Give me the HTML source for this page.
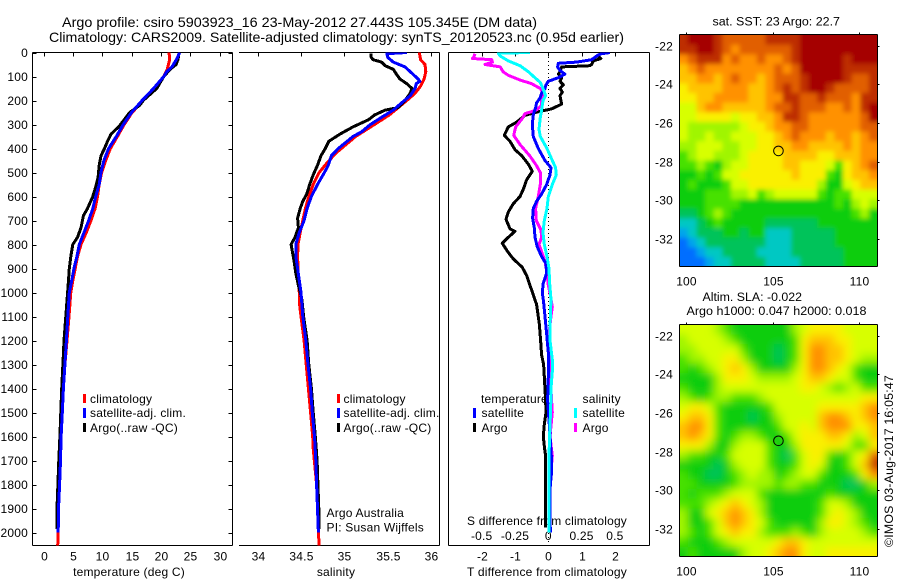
<!DOCTYPE html>
<html>
<head>
<meta charset="utf-8">
<title>Argo profile chart</title>
<style>
html,body{margin:0;padding:0;background:#fff;width:900px;height:580px;overflow:hidden}
svg{display:block}
text{font-family:"Liberation Sans",sans-serif;fill:#000;font-size:12px;letter-spacing:.2px}
.t{font-size:14px;letter-spacing:0}
.m{font-size:11.5px;letter-spacing:0}
</style>
</head>
<body>
<svg id="chart" xmlns="http://www.w3.org/2000/svg" width="900" height="580" viewBox="0 0 900 580">
  <text class="t" x="62" y="27" textLength="475" lengthAdjust="spacingAndGlyphs">Argo profile: csiro 5903923_16 23-May-2012 27.443S 105.345E (DM data)</text>
  <text class="t" x="49" y="42" textLength="575" lengthAdjust="spacingAndGlyphs">Climatology: CARS2009. Satellite-adjusted climatology: synTS_20120523.nc (0.95d earlier)</text>

  <text x="129" y="576" text-anchor="middle">temperature (deg C)</text>
  <text x="336" y="576" text-anchor="middle">salinity</text>
  <text x="547" y="576" text-anchor="middle" textLength="160" lengthAdjust="spacingAndGlyphs">T difference from climatology</text>
  <text x="547" y="525" text-anchor="middle" textLength="160" lengthAdjust="spacingAndGlyphs">S difference from climatology</text>

  <g>
    <rect x="83" y="394" width="3" height="9" fill="#f00"/>
    <rect x="83" y="408" width="3" height="10" fill="#00f"/>
    <rect x="83" y="423" width="3" height="9" fill="#000"/>
    <text x="90" y="403">climatology</text>
    <text x="90" y="417" textLength="96" lengthAdjust="spacingAndGlyphs">satellite-adj. clim.</text>
    <text x="90" y="432" textLength="88" lengthAdjust="spacingAndGlyphs">Argo(..raw -QC)</text>
  </g>
  <g>
    <rect x="337" y="394" width="3" height="9" fill="#f00"/>
    <rect x="337" y="408" width="3" height="10" fill="#00f"/>
    <rect x="337" y="423" width="3" height="9" fill="#000"/>
    <text x="343.5" y="403">climatology</text>
    <text x="343.5" y="417" textLength="96" lengthAdjust="spacingAndGlyphs">satellite-adj. clim.</text>
    <text x="343.5" y="432" textLength="88" lengthAdjust="spacingAndGlyphs">Argo(..raw -QC)</text>
  </g>
  <g>
    <text x="481" y="403">temperature</text>
    <text x="582.5" y="403">salinity</text>
    <rect x="473" y="408" width="3" height="10" fill="#00f"/>
    <rect x="473" y="423" width="3" height="9" fill="#000"/>
    <rect x="574" y="408" width="3" height="10" fill="#0ff"/>
    <rect x="574" y="423" width="3" height="9" fill="#f0f"/>
    <text x="481.5" y="417">satellite</text>
    <text x="481.5" y="432">Argo</text>
    <text x="582.5" y="417">satellite</text>
    <text x="582.5" y="432">Argo</text>
  </g>
  <text x="326.5" y="517">Argo Australia</text>
  <text x="326.5" y="531.5">PI: Susan Wijffels</text>

  <text class="m" x="712.5" y="25.5" textLength="127.5" lengthAdjust="spacingAndGlyphs">sat. SST: 23 Argo: 22.7</text>
  <text class="m" x="702.5" y="301" textLength="99.5" lengthAdjust="spacingAndGlyphs">Altim. SLA: -0.022</text>
  <text class="m" x="686.5" y="315" textLength="180" lengthAdjust="spacingAndGlyphs">Argo h1000: 0.047 h2000: 0.018</text>
  <text transform="translate(893,547) rotate(-90)" textLength="172" lengthAdjust="spacingAndGlyphs">©IMOS 03-Aug-2017 16:05:47</text>
</svg>
<script>
// ---------- depth tick labels ----------
const depthTicks = [0,100,200,300,400,500,600,700,800,900,1000,1100,1200,1300,1400,1500,1600,1700,1800,1900,2000];
const tempTicks = [0,5,10,15,20,25,30];
const salTicks = [34,34.5,35,35.5,36];
const tDiffTicks = [-2,-1,0,1,2];
const sDiffTicks = [-0.5,-0.25,0,0.25,0.5];
const lonTicks = [100,105,110];
const latTicks = [-22,-24,-26,-28,-30,-32];

// ---------- temperature panel ----------
const climTempDepth = [0,30,70,100,150,200,250,300,350,400,450,500,550,600,650,700,750,800,850,900,950,1000,1100,1200,1300,1400,1500,1600,1700,1800,1900,2000,2054];
const climTemp = [21.4,21.5,21.1,20.5,19,17,15.1,13.75,12.6,11.4,10.6,9.9,9.5,9.2,8.8,8.1,7.3,6.4,5.8,5.4,5,4.66,4.35,4,3.65,3.4,3.2,3,2.9,2.75,2.55,2.5,2.42];
const satTempDepth = [0,20,40,60,80,100,150,200,250,300,350,400,450,500,550,600,650,700,750,800,850,900,950,1000,1100,1200,1300,1400,1500,1600,1700,1800,1900,2000];
const satTemp = [23.2,22.85,22.4,21.9,21,20.5,18.75,16.8,15,13.6,12.4,11.1,10.3,9.8,9.5,8.9,8.4,7.7,6.9,6.1,5.7,5.2,4.8,4.4,4.15,3.9,3.65,3.4,3.2,3,2.9,2.75,2.55,2.5];
const argoTempDepth = [5,30,50,70,100,150,200,220,250,280,310,340,370,400,430,470,520,560,600,650,680,730,770,800,850,900,950,1000,1100,1200,1300,1400,1500,1600,1700,1800,1900,1985];
const argoTemp = [23.1,22.9,22.6,21.6,20.5,19.3,17,16.4,14.7,13.75,12.8,11.5,10.9,10.4,9.8,9.5,9.3,8.9,8.4,7.5,6.8,6.4,5.8,5,4.66,4.4,4.26,4.1,3.8,3.5,3.3,3.1,2.95,2.8,2.6,2.45,2.3,2.3];

// ---------- salinity panel ----------
const climSalDepth = [0,30,50,80,110,140,170,200,230,260,290,320,350,380,420,460,500,550,600,650,700,750,800,850,900,950,1000,1040,1100,1200,1300,1400,1500,1600,1650,1800,1900,2000,2054];
const climSal = [35.865,35.88,35.93,35.94,35.92,35.88,35.815,35.72,35.62,35.52,35.39,35.26,35.13,35.03,34.9,34.8,34.71,34.64,34.59,34.55,34.52,34.49,34.465,34.46,34.465,34.47,34.48,34.48,34.5,34.535,34.56,34.585,34.61,34.635,34.64,34.68,34.69,34.7,34.71];
const satSalDepth = [0,5,20,40,60,90,110,120,130,150,180,210,240,270,300,330,350,400,430,470,500,550,600,650,700,750,800,850,900,950,1000,1050,1100,1200,1300,1400,1500,1600,1700,1800,1900,2000];
const satSal = [35.72,35.49,35.5,35.565,35.7,35.79,35.85,35.87,35.83,35.815,35.76,35.66,35.565,35.43,35.3,35.2,35.1,34.93,34.85,34.815,34.77,34.69,34.62,34.57,34.535,34.48,34.44,34.44,34.46,34.48,34.5,34.51,34.52,34.555,34.58,34.61,34.63,34.655,34.67,34.68,34.69,34.7];
const argoSalDepth = [5,20,30,40,55,70,90,110,130,150,170,200,230,240,260,280,310,340,370,400,430,470,510,550,590,620,650,690,730,770,800,830,870,920,970,1030,1100,1200,1300,1400,1500,1600,1700,1800,1900,1985];
const argoSal = [35.31,35.31,35.33,35.43,35.47,35.565,35.6,35.64,35.72,35.78,35.76,35.7,35.62,35.47,35.35,35.28,35.1,34.95,34.82,34.78,34.73,34.69,34.64,34.6,34.565,34.52,34.49,34.46,34.47,34.43,34.385,34.4,34.42,34.44,34.47,34.51,34.53,34.57,34.59,34.62,34.64,34.665,34.685,34.695,34.705,34.705];

// ---------- difference panel ----------
const satTDiffDepth = [0,5,10,30,40,45,60,75,90,105,120,135,150,170,190,210,230,260,300,350,400,450,480,510,550,590,620,650,690,730,770,810,850,880,920,960,1000,1040,1100,1170,1250,1350,1450,1550,1700,1750,1800,1850,2000];
const satTDiff = [1.85,1.6,1.5,1.3,0.85,0.3,0.28,0.35,0.5,0.3,0,-0.07,-0.1,-0.2,-0.25,-0.35,-0.38,-0.45,-0.48,-0.45,-0.3,-0.1,0.08,0.05,-0.05,-0.2,-0.35,-0.45,-0.47,-0.42,-0.4,-0.33,-0.2,-0.07,-0.05,-0.15,-0.18,-0.14,-0.1,-0.05,0,0,-0.02,0.03,0.1,0.1,0.06,0.05,0.06];
const argoTDiffDepth = [10,25,35,50,55,60,80,90,105,120,135,150,165,180,215,235,250,262,290,310,345,370,405,430,465,495,530,570,600,630,665,695,735,745,770,795,830,860,895,930,970,1010,1050,1080,1130,1200,1260,1300,1350,1450,1500,1550,1600,1650,1680,1800,1980];
const argoTDiff = [1.45,1.58,1.35,1.3,1.25,0.4,0.35,0.3,0.4,0.35,0.45,0.35,0.42,0.35,0.4,0.1,-0.4,-0.7,-0.95,-1.2,-1.32,-1.15,-1,-0.8,-0.6,-0.48,-0.65,-0.75,-0.85,-1.05,-1.2,-1.27,-1.15,-1,-1.2,-1.38,-1.22,-1.05,-0.78,-0.65,-0.55,-0.45,-0.35,-0.32,-0.27,-0.23,-0.2,-0.14,-0.12,-0.08,-0.07,-0.12,-0.15,-0.11,-0.08,-0.08,-0.08];
const satSDiffDepth = [0,3,15,35,55,80,100,125,150,180,200,240,270,320,350,400,450,480,510,550,600,650,700,750,800,850,900,960,1030,1100,1200,1280,1330,1400,1480,1550,1680,1800,2000];
const satSDiff = [-0.1375,-0.375,-0.36,-0.3,-0.2125,-0.15,-0.11,-0.06,-0.04,-0.02,-0.04,-0.05,-0.06,-0.07,-0.06,-0.01,0.03,0.055,0.06,0.03,0,-0.01,-0.03,-0.04,-0.03,-0.01,0.005,0.01,0.02,0.015,0.0125,0.03,0.03,0.02,0.018,0.0125,0.005,0.005,0.005];
const argoSDiffDepth = [5,20,25,30,40,50,60,80,95,115,130,150,170,190,220,240,255,275,310,345,385,430,470,500,550,600,650,700,740,770,800,830,870,920,970,1010,1060,1100,1170,1250,1350,1450,1500,1600,1680,1800,2000];
const argoSDiff = [-0.55,-0.56,-0.57,-0.425,-0.42,-0.475,-0.36,-0.34,-0.3,-0.21,-0.125,-0.06,-0.04,-0.05,-0.05,-0.09,-0.175,-0.195,-0.245,-0.26,-0.21,-0.14,-0.09,-0.06,-0.06,-0.075,-0.095,-0.09,-0.055,-0.05,-0.07,-0.05,-0.025,-0.01,0,0.015,0.03,0.02,0.005,0.0075,0.015,0.025,0.03,0.0125,0.03,0.0125,0.0125];

// ---------- map data (colour-scale levels, 0.5 degree cells, north to south) ----------
const mapLon0 = 99.59;
const mapLat0 = -21.44;
const mapCell = 0.5;
const sstLevels = [
[12,13,13,13,12,11,11,11,11,11,12,12,12,12,13,13,13,13,13,13,13,13,13],
[12,12,13,13,12,11,10,11,11,11,11,11,11,12,13,13,13,13,13,13,13,13,13],
[10,11,12,12,12,10,11,10,10,11,10,10,11,12,13,13,13,13,13,12,13,13,13],
[9,10,11,10,10,10,10,10,10,10,10,11,10,11,13,13,13,13,13,12,12,12,12],
[9,9,10,10,9,10,11,10,10,9,10,11,11,11,12,13,13,13,13,12,11,11,12],
[8,9,9,9,9,10,10,10,9,9,10,11,12,11,12,13,13,12,11,11,11,11,12],
[8,8,9,9,10,10,10,10,9,9,10,10,12,12,11,11,12,11,11,11,10,12,12],
[7,7,9,10,10,9,9,9,9,9,10,11,11,12,11,11,11,10,10,11,10,12,13],
[7,7,8,8,8,8,7,8,8,9,9,10,12,12,11,10,10,10,10,10,10,11,13],
[7,6,6,6,6,6,6,7,8,8,9,10,10,11,11,10,10,10,10,10,10,11,11],
[7,6,6,7,6,6,7,7,7,8,8,9,10,11,10,10,10,9,10,10,9,10,11],
[6,6,7,7,7,6,6,7,7,8,8,9,9,10,10,9,9,9,9,10,9,10,10],
[5,6,7,7,6,6,6,7,8,8,8,8,9,9,9,9,8,8,9,9,9,10,10],
[5,5,6,5,4,6,7,7,8,8,8,8,9,9,8,8,8,7,5,8,9,10,11],
[4,4,5,4,5,7,7,8,8,8,8,8,8,9,8,8,8,5,4,8,9,9,10],
[4,5,4,4,4,5,7,7,8,8,8,8,8,8,8,8,6,4,4,7,8,9,9],
[4,4,4,5,5,5,6,6,7,5,6,7,7,7,7,7,5,4,5,5,7,7,7],
[4,4,4,5,5,5,5,4,4,4,4,4,4,4,4,4,4,4,5,4,6,7,6],
[3,3,4,5,6,5,4,4,4,4,4,4,4,4,4,4,4,4,4,4,5,6,4],
[2,2,3,4,5,4,4,4,4,4,3,3,3,3,3,3,4,4,4,4,4,4,4],
[1,2,3,3,3,4,4,3,4,4,2,2,2,3,3,3,3,3,4,4,4,4,4],
[0,1,2,3,3,3,3,3,3,3,2,2,2,3,3,3,3,3,4,4,4,4,4],
[0,0,1,2,2,3,3,3,3,2,2,2,2,3,3,3,3,3,3,4,4,4,4],
[0,0,0,1,2,2,3,3,3,3,2,2,2,2,3,3,3,3,3,4,4,4,4]
];
const slaLevels = [
[7,7,7,7,6,5,4,4,4,4,4,4,4,6,7,8,8,8,8,7,7,7,7],
[6,7,7,7,7,6,5,4,4,4,4,4,4,5,8,9,9,9,8,8,7,7,7],
[6,6,7,7,7,7,7,5,4,4,4,3,4,5,8,10,10,9,9,8,7,7,7],
[5,6,6,7,7,8,8,6,4,4,4,3,4,5,8,10,10,9,9,8,7,6,6],
[5,4,5,6,7,8,9,8,6,4,4,4,4,6,8,10,10,9,8,7,5,4,4],
[4,4,4,4,6,8,8,8,7,6,6,6,6,7,8,9,9,8,7,7,5,4,4],
[5,4,4,4,6,7,7,7,7,7,7,7,7,7,8,8,7,6,5,6,7,5,5],
[6,5,4,5,6,6,5,5,5,6,7,7,7,7,7,7,7,7,7,7,7,8,8],
[7,8,8,7,5,4,4,4,4,4,5,7,7,7,7,7,8,8,8,8,8,9,10],
[8,9,9,8,5,4,4,4,3,4,4,6,7,7,7,7,9,10,10,9,8,9,10],
[9,10,10,8,5,4,4,4,4,4,4,5,7,7,8,7,9,10,10,10,8,8,9],
[9,10,9,8,5,4,5,6,6,5,4,4,5,7,8,8,8,9,9,8,6,7,9],
[8,8,8,6,4,4,6,7,7,7,5,4,4,6,8,8,8,8,8,7,5,5,8],
[6,5,5,4,4,5,7,7,7,7,5,4,3,5,7,8,8,5,4,5,7,8,11],
[4,4,4,4,3,4,6,7,7,7,5,4,4,5,7,8,7,4,4,5,7,9,12],
[5,4,4,3,3,4,5,6,7,6,6,4,5,6,7,7,5,4,4,4,5,8,10],
[5,5,4,4,4,4,5,6,6,6,6,5,6,6,5,5,4,4,4,3,3,4,6],
[5,4,5,5,5,6,7,7,7,5,4,4,4,4,4,4,4,5,4,4,4,4,4],
[5,5,5,6,7,8,9,8,7,6,4,4,4,4,4,4,5,7,7,6,4,4,4],
[6,4,4,7,8,9,10,9,8,6,4,4,4,4,4,4,5,7,8,7,6,4,4],
[6,4,4,5,7,9,10,9,8,7,5,4,4,4,4,4,6,8,8,7,6,5,4],
[6,5,4,5,7,8,9,8,8,6,5,5,5,6,5,4,6,7,7,7,7,6,5],
[5,4,4,4,5,6,7,7,7,7,7,8,9,9,8,7,7,7,7,7,7,7,7],
[4,5,4,4,4,4,4,6,7,7,8,9,10,10,8,7,7,8,8,8,8,8,8]
];
const floatLon = 105.345;
const floatLat = -27.443;

// ---------- helpers ----------
const NS = 'http://www.w3.org/2000/svg';
const svg = document.getElementById('chart');
function mk(tag, attrs, parent) {
  const el = document.createElementNS(NS, tag);
  for (const k in attrs) el.setAttribute(k, attrs[k]);
  (parent || svg).appendChild(el);
  return el;
}
const colourStops = [[0,110,255],[0,165,235],[0,200,195],[0,195,90],[10,205,15],[70,225,0],[160,245,0],[215,255,0],[250,240,0],[255,195,0],[255,145,0],[225,95,0],[190,45,0],[165,0,0]];
function levelColour(v) {
  const c = Math.max(0, Math.min(colourStops.length - 1, v));
  const i = Math.min(colourStops.length - 2, Math.floor(c));
  const f = c - i;
  const a = colourStops[i], b = colourStops[i + 1];
  return 'rgb(' + [0,1,2].map(function (n) { return Math.round(a[n] + (b[n] - a[n]) * f); }).join(',') + ')';
}

// ---------- axis functions ----------
const yDepth = function (d) { return 52.5 + 0.24 * d; };
const xTemp = function (t) { return 43.5 + 5.867 * t; };
const xSal = function (s) { return 257.7 + 86.67 * (s - 34); };
const xTDiff = function (t) { return 548.3 + 33.3 * t; };
const xSDiff = function (s) { return 548.3 + 133.2 * s; };
const xLon = function (l) { return 686.3 + 17.24 * (l - 100); };
const yLat1 = function (l) { return 45.8 + 19.31 * (-22 - l); };
const yLat2 = function (l) { return 335.7 + 19.31 * (-22 - l); };

// ---------- frame drawing ----------
function line(x1, y1, x2, y2, parent) {
  return mk('line', { x1: x1, y1: y1, x2: x2, y2: y2, stroke: '#000', 'stroke-width': 1, 'shape-rendering': 'crispEdges' }, parent);
}
function clipRect(id, x, y, w, h) {
  const c = mk('clipPath', { id: id });
  mk('rect', { x: x, y: y, width: w, height: h }, c);
}

// ---------- profile series ----------
function drawSeries(name, depths, values, xFn, colour, width, clip) {
  const pts = depths.map(function (d, i) { return xFn(values[i]).toFixed(1) + ',' + yDepth(d).toFixed(1); }).join(' ');
  const p = mk('polyline', { points: pts, fill: 'none', stroke: colour, 'stroke-width': width, 'stroke-linejoin': 'round', 'shape-rendering': 'crispEdges', 'clip-path': 'url(#' + clip + ')' });
  
  
}

clipRect('clip-temp', 32.5, 52.5, 200, 493);
clipRect('clip-sal', 239, 52.5, 200.5, 493);
clipRect('clip-diff', 448.5, 52.5, 201, 493);

// temperature frame
const tempAxes = mk('g', {});


line(32.5, 52.5, 232.5, 52.5, tempAxes);
line(32.5, 545.5, 232.5, 545.5, tempAxes);
line(32.5, 52.5, 32.5, 545.5, tempAxes);
line(232.5, 52.5, 232.5, 545.5, tempAxes);
depthTicks.forEach(function (d) {
  const y = Math.round(yDepth(d)) + 0.5;
  line(32.5, y, 36.5, y, tempAxes);
  line(228.5, y, 232.5, y, tempAxes);
  const lab = mk('text', { x: 28, y: y + 3.5, 'text-anchor': 'end' }, tempAxes);
  lab.textContent = d;
  
  
});
tempTicks.forEach(function (t) {
  const x = Math.round(xTemp(t)) + 0.5;
  line(x, 52.5, x, 56.5, tempAxes);
  const lab = mk('text', { x: x, y: 560.5, 'text-anchor': 'middle' }, tempAxes);
  lab.textContent = t;
  
  
});
drawSeries('temperature-climatology-line', climTempDepth, climTemp, xTemp, '#f00', 3, 'clip-temp');
drawSeries('temperature-argo-line', argoTempDepth, argoTemp, xTemp, '#000', 3, 'clip-temp');
drawSeries('temperature-satellite-line', satTempDepth, satTemp, xTemp, '#00f', 3, 'clip-temp');

// salinity frame
const salAxes = mk('g', {});


line(239, 52.5, 439.5, 52.5, salAxes);
line(239, 545.5, 439.5, 545.5, salAxes);
line(439.5, 52.5, 439.5, 545.5, salAxes);
salTicks.forEach(function (s) {
  const x = Math.round(xSal(s)) + 0.5;
  line(x, 52.5, x, 56.5, salAxes);
  const lab = mk('text', { x: x, y: 560.5, 'text-anchor': 'middle' }, salAxes);
  lab.textContent = s;
  
  
});
drawSeries('salinity-climatology-line', climSalDepth, climSal, xSal, '#f00', 3, 'clip-sal');
drawSeries('salinity-argo-line', argoSalDepth, argoSal, xSal, '#000', 3, 'clip-sal');
drawSeries('salinity-satellite-line', satSalDepth, satSal, xSal, '#00f', 3, 'clip-sal');

// difference frame
const diffAxes = mk('g', {});


line(448.5, 52.5, 649.5, 52.5, diffAxes);
line(448.5, 545.5, 649.5, 545.5, diffAxes);
line(448.5, 52.5, 448.5, 545.5, diffAxes);
line(649.5, 52.5, 649.5, 545.5, diffAxes);
tDiffTicks.forEach(function (t) {
  const x = Math.round(xTDiff(t)) + 0.5;
  line(x, 52.5, x, 56.5, diffAxes);
  const lab = mk('text', { x: x, y: 560.5, 'text-anchor': 'middle' }, diffAxes);
  lab.textContent = t;
  
  
});
sDiffTicks.forEach(function (s) {
  const lab = mk('text', { x: xSDiff(s), y: 540, 'text-anchor': 'middle' }, diffAxes);
  lab.textContent = s;
  
  
});
const zeroLine = mk('line', { x1: xTDiff(0), y1: 53, x2: xTDiff(0), y2: 545, stroke: '#000', 'stroke-width': 1, 'stroke-dasharray': '1 3', 'shape-rendering': 'crispEdges' });


drawSeries('t-difference-argo-line', argoTDiffDepth, argoTDiff, xTDiff, '#000', 3, 'clip-diff');
drawSeries('s-difference-argo-line', argoSDiffDepth, argoSDiff, xSDiff, '#f0f', 3, 'clip-diff');
drawSeries('t-difference-satellite-line', satTDiffDepth, satTDiff, xTDiff, '#00f', 3, 'clip-diff');
drawSeries('s-difference-satellite-line', satSDiffDepth, satSDiff, xSDiff, '#0ff', 3, 'clip-diff');

// ---------- maps ----------
const blur = mk('filter', { id: 'soft', filterUnits: 'userSpaceOnUse', x: 600, y: 0, width: 300, height: 580 });
mk('feGaussianBlur', { stdDeviation: 2.4 }, blur);
const blur2 = mk('filter', { id: 'softer', filterUnits: 'userSpaceOnUse', x: 600, y: 300, width: 300, height: 280 });
mk('feGaussianBlur', { stdDeviation: 4.2 }, blur2);

function drawMap(name, levels, yLat, top, bottom, filterId) {
  const left = 679.5, right = 877.5;
  clipRect('clip-' + name, left, top, right - left, bottom - top);
  const outer = mk('g', { 'clip-path': 'url(#clip-' + name + ')' });
  
  
  const inner = mk('g', { filter: 'url(#' + filterId + ')' }, outer);
  const nRows = levels.length;
  levels.forEach(function (row, r) {
    row.forEach(function (v, c) {
      let x0 = xLon(mapLon0 + c * mapCell), x1 = xLon(mapLon0 + (c + 1) * mapCell);
      let y0 = yLat(mapLat0 - r * mapCell), y1 = yLat(mapLat0 - (r + 1) * mapCell);
      if (c === 0) x0 -= 14;
      if (c === row.length - 1) x1 += 14;
      if (r === 0) y0 -= 14;
      if (r === nRows - 1) y1 += 14;
      const cell = mk('rect', { x: x0.toFixed(2), y: y0.toFixed(2), width: (x1 - x0 + 0.4).toFixed(2), height: (y1 - y0 + 0.4).toFixed(2), fill: levelColour(v) }, inner);
      
      
    });
  });
  const axes = mk('g', {});
  
  
  line(left, top, right, top, axes);
  line(left, bottom, right, bottom, axes);
  line(left, top, left, bottom, axes);
  line(right, top, right, bottom, axes);
  lonTicks.forEach(function (l) {
    const x = Math.round(xLon(l)) + 0.5;
    line(x, top - 2, x, top, axes);
    const lab = mk('text', { x: x, y: bottom + 19, 'text-anchor': 'middle' }, axes);
    lab.textContent = l;
    
    
  });
  latTicks.forEach(function (l) {
    const y = Math.round(yLat(l)) + 0.5;
    line(right, y, right + 2, y, axes);
    const lab = mk('text', { x: 673, y: y + 4, 'text-anchor': 'end' }, axes);
    lab.textContent = l;
    
    
  });
  const dot = mk('circle', { cx: xLon(floatLon), cy: yLat(floatLat), r: 4.8, fill: 'none', stroke: '#000', 'stroke-width': 1 });
  
  
}
drawMap('sst', sstLevels, yLat1, 34.5, 266.5, 'soft');
drawMap('sla', slaLevels, yLat2, 324.5, 556.5, 'softer');
</script>
</body>
</html>
